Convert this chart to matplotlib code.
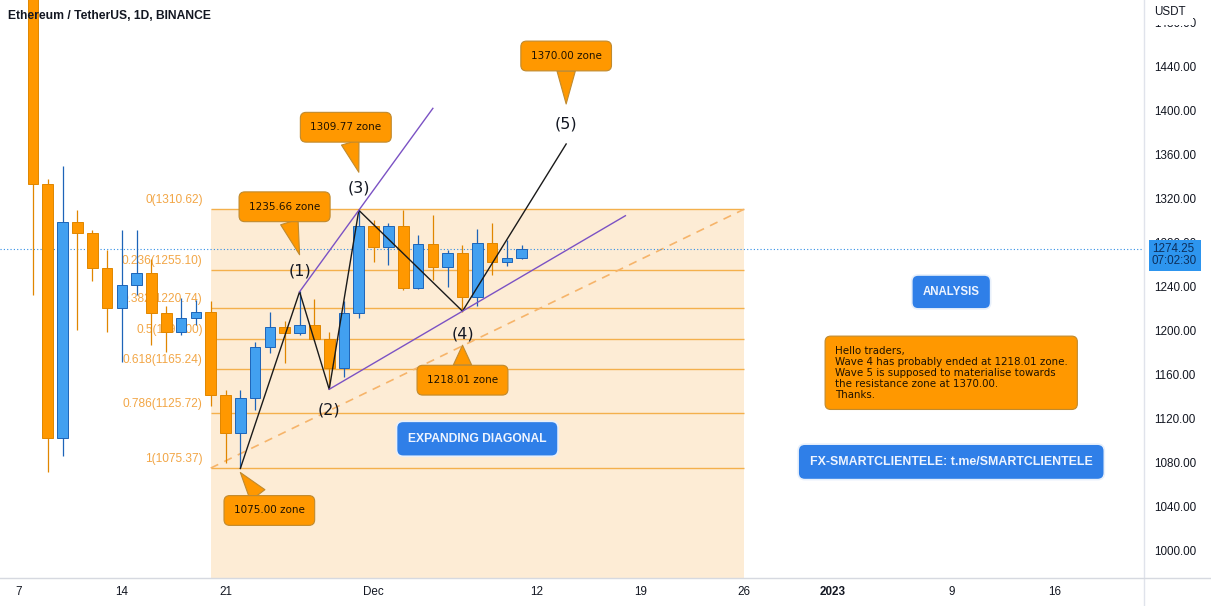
import numpy as np
import pandas as pd
import matplotlib
matplotlib.use('Agg')
import matplotlib.pyplot as plt
import matplotlib.dates as mdates
import matplotlib.transforms as mtransforms
from matplotlib.lines import Line2D

# ---------------- data ----------------
dates = pd.date_range('2022-11-08', '2022-12-11', freq='D')
opens = [1568, 1334, 1103, 1299, 1289, 1257, 1221, 1242, 1253, 1216, 1199, 1212,
         1217, 1142, 1107, 1139, 1185, 1204, 1198, 1205, 1193, 1166, 1216,
         1295, 1276, 1295, 1239, 1279, 1258, 1271, 1231, 1280, 1263, 1266]
highs = [1610, 1338, 1350, 1310, 1292, 1274, 1292, 1292, 1265, 1223, 1230, 1228,
         1227, 1146, 1146, 1190, 1217, 1209, 1236, 1229, 1199, 1227, 1310,
         1301, 1298, 1310, 1287, 1305, 1274, 1278, 1293, 1298, 1283, 1278]
lows = [1233, 1072, 1086, 1201, 1245, 1199, 1172, 1233, 1187, 1181, 1196, 1205,
        1132, 1080, 1075, 1128, 1180, 1171, 1196, 1191, 1147, 1158, 1212,
        1263, 1260, 1237, 1238, 1246, 1240, 1217, 1223, 1251, 1259, 1265]
closes = [1334, 1103, 1299, 1289, 1257, 1221, 1242, 1253, 1216, 1199, 1212, 1217,
          1142, 1107, 1139, 1185, 1204, 1198, 1205, 1193, 1166, 1216, 1295,
          1276, 1295, 1239, 1279, 1258, 1271, 1231, 1280, 1263, 1266, 1274.25]

fib_levels = ['0', '0.236', '0.382', '0.5', '0.618', '0.786', '1']
fib_prices = [1310.62, 1255.10, 1220.74, 1193.00, 1165.24, 1125.72, 1075.37]
fib_start, fib_end = '2022-11-20', '2022-12-26'

wave_dates = ['2022-11-22', '2022-11-26', '2022-11-28', '2022-11-30', '2022-12-07', '2022-12-14']
wave_prices = [1075.00, 1235.66, 1147.0, 1309.77, 1218.01, 1370.00]
wave_labels = ['', '(1)', '(2)', '(3)', '(4)', '(5)']
upper_end_date = '2022-12-05'
lower_end_date = '2022-12-18'

zone_texts = ['1075.00 zone', '1235.66 zone', '', '1309.77 zone', '1218.01 zone', '1370.00 zone']

last_price = 1274.25
countdown = '07:02:30'

yticks = list(range(1000, 1481, 40))
xtick_dates = ['2022-11-07', '2022-11-14', '2022-11-21', '2022-12-01', '2022-12-12',
               '2022-12-19', '2022-12-26', '2023-01-01', '2023-01-09', '2023-01-16']
xtick_labels = ['7', '14', '21', 'Dec', '12', '19', '26', '2023', '9', '16']

note_text = ("Hello traders,\nWave 4 has probably ended at 1218.01 zone.\n"
             "Wave 5 is supposed to materialise towards\nthe resistance zone at 1370.00.\nThanks.")

# ---------------- styles ----------------
W, H = 1211, 606
AX_W, AX_H, AX_B = 1143, 578, 28
PX_PER_DAY = 14.81
UP_FC, UP_EC = '#42a0f0', '#1d64b8'
DN_FC, DN_EC = '#ff9800', '#e08600'
ORANGE_BOX, ORANGE_EDGE = '#ff9800', '#c08a2e'
BLUE_BOX = '#2f7fe8'
FIB_LINE = '#f4b04c'
FIB_TEXT = '#f2a646'
FIB_FILL = '#fdecd5'
TXT = '#131722'
SANS = 'Liberation Sans'

fig = plt.figure(figsize=(W / 100, H / 100), dpi=100)
fig.patch.set_facecolor('white')
ax = fig.add_axes([0, AX_B / H, AX_W / W, AX_H / H])
ax.set_facecolor('white')

d0 = mdates.date2num(pd.Timestamp('2022-11-08'))
x_left = d0 - 33 / PX_PER_DAY
x_right = x_left + AX_W / PX_PER_DAY
ax.set_xlim(x_left, x_right)
ax.set_ylim(975.45, 1500.9)

xd = mdates.date2num(dates)

def dn(s):
    return mdates.date2num(pd.Timestamp(s))

# ---------- fibonacci ----------
fs, fe = dn(fib_start), dn(fib_end)
ax.fill_between([fs, fe], [fib_prices[0]] * 2, [ax.get_ylim()[0]] * 2,
                color=FIB_FILL, lw=0, zorder=0)
for lvl, p in zip(fib_levels, fib_prices):
    ax.hlines(p, fs, fe, color=FIB_LINE, lw=1.0, zorder=1)
    ax.annotate(f'{lvl}({p:.2f})', xy=(fs, p), xytext=(-8, 9), textcoords='offset pixels',
                ha='right', va='center', fontsize=8.6, color=FIB_TEXT, family=SANS, zorder=1.5)
ax.plot([fs, fe], [fib_prices[-1], fib_prices[0]], color='#f6b46a', lw=1.2,
        ls=(0, (5, 4)), zorder=2)

# ---------- current price line ----------
ax.axhline(last_price, color='#2f8de4', lw=0.8, ls=(0, (1, 2)), zorder=2)

# ---------- candles ----------
o, h, l, c = map(np.asarray, (opens, highs, lows, closes))
up = c >= o
wick_cols = np.where(up, UP_EC, DN_EC)
ax.vlines(xd, l, h, colors=list(wick_cols), lw=0.9, zorder=3)
bottom = np.minimum(o, c)
height = np.maximum(np.abs(c - o), 0.8)
ax.bar(xd[up], height[up], bottom=bottom[up], width=0.72, color=UP_FC,
       edgecolor=UP_EC, lw=0.7, zorder=3.5)
ax.bar(xd[~up], height[~up], bottom=bottom[~up], width=0.72, color=DN_FC,
       edgecolor=DN_EC, lw=0.7, zorder=3.5)

# ---------- wave lines ----------
wx = np.array([dn(s) for s in wave_dates])
wy = np.array(wave_prices)
ax.plot(wx, wy, color='#1a1a1a', lw=1.0, zorder=4)

def extend(i, j, xend):
    slope = (wy[j] - wy[i]) / (wx[j] - wx[i])
    return [wx[i], xend], [wy[i], wy[i] + slope * (xend - wx[i])]

ux, uy = extend(1, 3, dn(upper_end_date))
ax.plot(ux, uy, color='#7b52c4', lw=1.0, zorder=4)
lx, ly = extend(2, 4, dn(lower_end_date))
ax.plot(lx, ly, color='#7b52c4', lw=1.0, zorder=4)

# wave labels (pixel offsets, +up)
label_dy = [0, 21, -21, 22, -23, 20]
for x, y, t, dy in zip(wx, wy, wave_labels, label_dy):
    if t:
        ax.annotate(t, xy=(x, y), xytext=(0, dy), textcoords='offset pixels',
                    ha='center', va='center', fontsize=11.5, color='#131722',
                    family='DejaVu Sans', zorder=5)

# callouts: (tip offset from point, text offset from tip) in pixels, +up
callout_geo = [(-4, 29, -38), (37, -15, 48), None, (38, -13, 45), (-34, 0, -35), (40, 0, 48)]
for x, y, t, g in zip(wx, wy, zone_texts, callout_geo):
    if not t:
        continue
    tip_dy, tx, ty = g
    trans = mtransforms.offset_copy(ax.transData, fig=fig, x=0, y=tip_dy, units='dots')
    ax.annotate(t, xy=(x, y), xycoords=trans, xytext=(tx, ty), textcoords='offset pixels',
                ha='center', va='center', fontsize=7.5, color='#1e1200', family='DejaVu Sans',
                bbox=dict(boxstyle='round,pad=0.95,rounding_size=0.55', fc=ORANGE_BOX,
                          ec=ORANGE_EDGE, lw=0.8),
                arrowprops=dict(arrowstyle='wedge,tail_width=1.75,shrink_factor=0.5',
                                fc=ORANGE_BOX, ec=ORANGE_EDGE, lw=0.8, shrinkA=0, shrinkB=0),
                zorder=6)

# ---------- blue labels & note ----------
def blue_label(text, date, price, size):
    ax.text(dn(date), price, text, ha='center', va='center', fontsize=size,
            fontweight='bold', color='#eef4ff', family=SANS, zorder=6,
            bbox=dict(boxstyle='round,pad=0.95,rounding_size=0.55', fc=BLUE_BOX,
                      ec='#e8f0fb', lw=1.2))

blue_label('EXPANDING DIAGONAL', '2022-12-08', 1102, 8.7)
blue_label('ANALYSIS', '2023-01-09', 1235.5, 8.3)
blue_label('FX-SMARTCLIENTELE: t.me/SMARTCLIENTELE', '2023-01-09', 1081, 8.9)

ax.text(dn('2023-01-09'), 1162, note_text, ha='center', va='center', multialignment='left',
        fontsize=7.4, color='#1e1200', family='DejaVu Sans', linespacing=1.12, zorder=6,
        bbox=dict(boxstyle='round,pad=0.95,rounding_size=0.55', fc=ORANGE_BOX,
                  ec=ORANGE_EDGE, lw=0.8))

# ---------- axes ----------
for s in ax.spines.values():
    s.set_visible(False)
ax.yaxis.tick_right()
ax.set_yticks(yticks)
ax.set_yticklabels([f'{v:.2f}' for v in yticks])
ax.tick_params(axis='y', length=0, pad=8, labelsize=8.4, labelcolor=TXT)
ax.set_xticks([dn(s) for s in xtick_dates])
ax.set_xticklabels(xtick_labels)
ax.tick_params(axis='x', length=0, pad=5.5, labelsize=8.4, labelcolor=TXT)
for lab in ax.get_xticklabels() + ax.get_yticklabels():
    lab.set_family(SANS)
for lab in ax.get_xticklabels():
    if lab.get_text() == '2023':
        lab.set_fontweight('bold')

# price label on right scale
ax.annotate(f'{last_price:.2f}\n{countdown}', xy=(1, last_price),
            xycoords=('axes fraction', 'data'), xytext=(9, -6), textcoords='offset pixels',
            ha='left', va='center', fontsize=8.4, color='#0d2f5c', family=SANS,
            linespacing=1.0, annotation_clip=False, zorder=10,
            bbox=dict(boxstyle='square,pad=0.3', fc='#2d95ef', ec='none'))

# separators
fig.add_artist(Line2D([AX_W / W + 0.5 / W] * 2, [0, 1], color='#e0e3eb', lw=1))
fig.add_artist(Line2D([0, 1], [AX_B / H] * 2, color='#d6d9e0', lw=1))

# USDT header covering top tick
fig.text(1154 / W, 1 - 12 / H, 'USDT', ha='left', va='center', fontsize=8.4, color=TXT,
         family=SANS, bbox=dict(boxstyle='square,pad=0.6', fc='white', ec='none'))

# title
fig.text(8 / W, 1 - 16 / H, 'Ethereum / TetherUS, 1D, BINANCE', ha='left', va='center',
         fontsize=8.7, fontweight='bold', color=TXT, family=SANS)

fig.savefig('out.png', dpi=100, facecolor='white')
